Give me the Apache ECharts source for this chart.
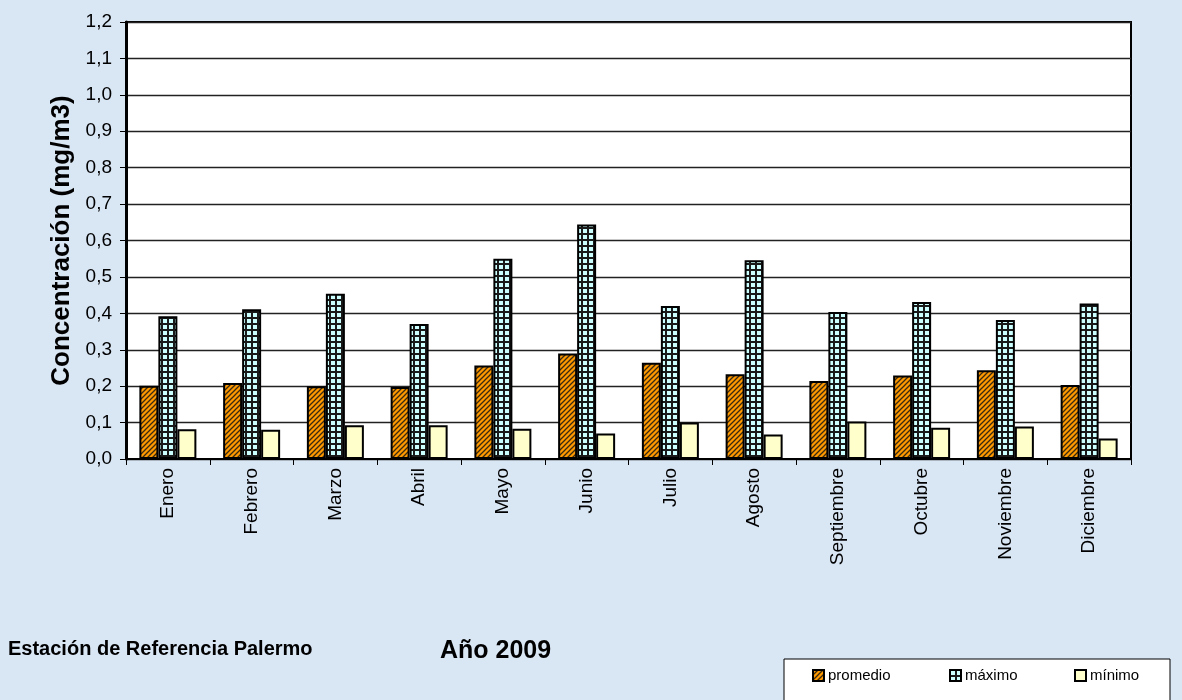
<!DOCTYPE html>
<html>
<head>
<meta charset="utf-8">
<script src="https://cdn.jsdelivr.net/npm/echarts@6/dist/echarts.min.js"></script>
<style>
html,body{margin:0;padding:0;background:#d9e6f4;}
#chart{width:1182px;height:700px;}
</style>
</head>
<body>
<div id="chart"></div>
<script>
const months = ['Enero','Febrero','Marzo','Abril','Mayo','Junio','Julio','Agosto','Septiembre','Octubre','Noviembre','Diciembre'];
const promedio = [0.201, 0.209, 0.200, 0.198, 0.257, 0.290, 0.264, 0.233, 0.214, 0.229, 0.244, 0.203];
const maximo   = [0.392, 0.411, 0.454, 0.371, 0.550, 0.644, 0.420, 0.546, 0.404, 0.431, 0.382, 0.427];
const minimo   = [0.082, 0.080, 0.093, 0.093, 0.083, 0.070, 0.100, 0.067, 0.103, 0.086, 0.089, 0.056];
const yTicks = { min: 0, max: 1.2, interval: 0.1 };

const FONT = '"Liberation Sans", Arial, sans-serif';

function hatchPattern() {
  const c = document.createElement('canvas');
  c.width = 5; c.height = 5;
  const g = c.getContext('2d');
  g.fillStyle = '#ff9900';
  g.fillRect(0, 0, 5, 5);
  g.strokeStyle = '#3a2a10';
  g.lineWidth = 1.3;
  g.beginPath();
  g.moveTo(-1, 6); g.lineTo(6, -1);
  g.moveTo(-1, 1); g.lineTo(1, -1);
  g.moveTo(4, 6); g.lineTo(6, 4);
  g.stroke();
  return c;
}
function gridPattern() {
  const c = document.createElement('canvas');
  c.width = 6; c.height = 6;
  const g = c.getContext('2d');
  g.fillStyle = '#1a1a1a';
  g.fillRect(0, 0, 6, 6);
  g.fillStyle = '#ccffff';
  g.fillRect(1, 1, 4, 4);
  return c;
}

const chart = echarts.init(document.getElementById('chart'));
const barBase = { type: 'bar', barWidth: 19, barGap: '0%' };
const legendBase = { padding: 0, icon: 'rect', itemWidth: 11, itemHeight: 11, itemGap: 4,
  textStyle: { fontSize: 15, color: '#000', fontFamily: FONT, padding: [0,0,0,-1] } };

chart.setOption({
  backgroundColor: '#d9e6f4',
  animation: false,
  textStyle: { fontFamily: FONT },
  title: [
    { text: 'Estación de Referencia Palermo', left: 8, top: 639, padding: 0,
      textStyle: { fontSize: 20, fontWeight: 'bold', color: '#000', fontFamily: FONT } },
    { text: 'Año 2009', left: 440, top: 639, padding: 0,
      textStyle: { fontSize: 25, fontWeight: 'bold', color: '#000', fontFamily: FONT } }
  ],
  graphic: [
    { type: 'rect', shape: { x: 784, y: 659, width: 386, height: 60 },
      style: { fill: '#fff', stroke: '#000', lineWidth: 1 }, z: 0 }
  ],
  legend: [
    Object.assign({ data: ['promedio'], left: 812, top: 668 }, legendBase),
    Object.assign({ data: ['máximo'], left: 949, top: 668 }, legendBase),
    Object.assign({ data: ['mínimo'], left: 1074, top: 668 }, legendBase)
  ],
  grid: {
    left: 126, top: 22, width: 1005, height: 437,
    show: true, backgroundColor: '#fff', borderColor: '#000', borderWidth: 2
  },
  xAxis: {
    type: 'category', data: months,
    axisLine: { lineStyle: { color: '#000', width: 2 } },
    axisTick: { show: true, length: 6, lineStyle: { color: '#000', width: 1 } },
    axisLabel: { rotate: 90, fontSize: 19, color: '#000', margin: 9, fontFamily: FONT }
  },
  yAxis: {
    type: 'value', min: yTicks.min, max: yTicks.max, interval: yTicks.interval,
    name: 'Concentración (mg/m3)', nameLocation: 'middle', nameGap: 47,
    nameTextStyle: { fontSize: 26, fontWeight: 'bold', color: '#000', fontFamily: FONT },
    axisLine: { show: true, lineStyle: { color: '#000', width: 3 } },
    axisTick: { show: true, length: 6, lineStyle: { color: '#000', width: 1 } },
    axisLabel: { fontSize: 19, color: '#000', margin: 14, fontFamily: FONT,
      formatter: v => v.toFixed(1).replace('.', ',') },
    splitLine: { show: true, lineStyle: { color: '#222', width: 1.3 } }
  },
  series: [
    Object.assign({}, barBase, { name: 'promedio', data: promedio,
      itemStyle: { color: { image: hatchPattern(), repeat: 'repeat' }, borderColor: '#000', borderWidth: 2 } }),
    Object.assign({}, barBase, { name: 'máximo', data: maximo,
      itemStyle: { color: { image: gridPattern(), repeat: 'repeat' }, borderColor: '#000', borderWidth: 2 } }),
    Object.assign({}, barBase, { name: 'mínimo', data: minimo,
      itemStyle: { color: '#ffffcc', borderColor: '#000', borderWidth: 2 } })
  ]
});
</script>
</body>
</html>
